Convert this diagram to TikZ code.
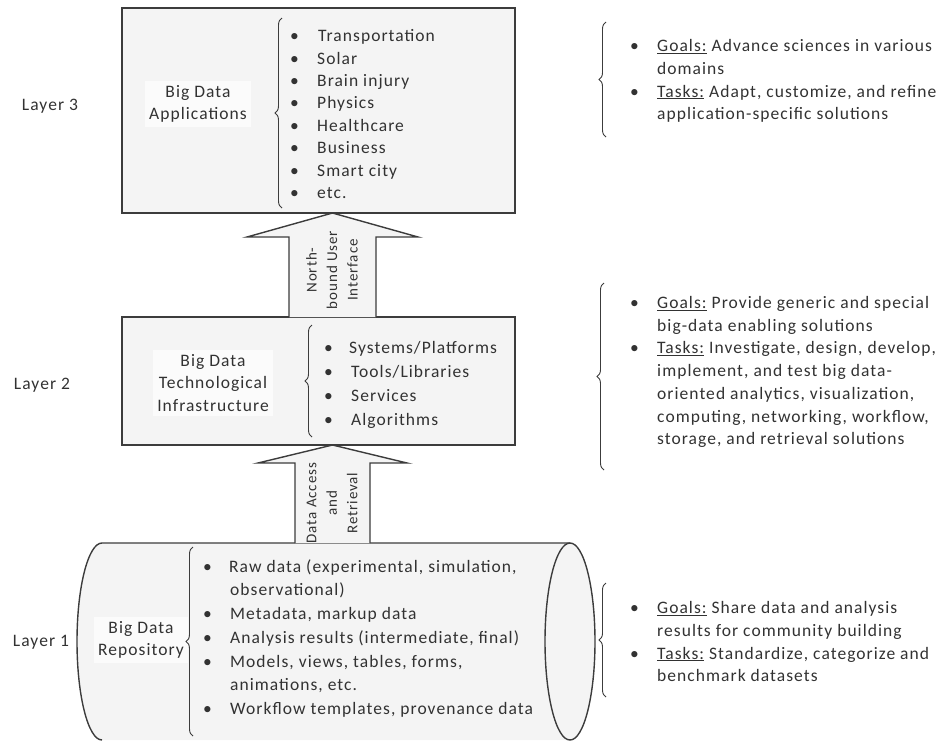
\documentclass[tikz,border=0pt]{standalone}
\usepackage{fontspec}
\setmainfont{Carlito}[LetterSpace=6]
\usetikzlibrary{decorations.pathreplacing,calc}
\definecolor{txt}{RGB}{50,50,50}
\definecolor{ln}{RGB}{60,60,60}
\definecolor{boxfill}{RGB}{244,244,244}
\definecolor{lblfill}{RGB}{251,251,251}
\newlength\bw
\setlength\bw{27pt}
\newcommand\bul{\makebox[\bw][l]{\textbullet}}
\newcommand\ind{\hspace*{\bw}}
\newcommand\ul[1]{\underline{#1}}
\begin{document}
\begin{tikzpicture}[x=1pt,y=-1pt,
  every node/.style={text=txt, font=\fontsize{17.5}{22.7}\selectfont, inner sep=0pt},
  layerbox/.style={draw=ln, line width=1.4pt, fill=boxfill},
  lbl/.style={align=center, fill=lblfill, inner sep=4pt},
  lst/.style={align=left, anchor=west, execute at begin node=\strut, execute at end node=\strut},
  wide/.style={font=\fontsize{17.5}{23.7}\selectfont},
  brc/.style={draw=ln, line width=0.9pt, decorate, decoration={brace, amplitude=7pt}},
  barrow/.style={draw=ln, line width=1.4pt, fill=boxfill, line join=miter},
  arrtext/.style={rotate=90, align=center, font=\fontsize{15}{20.5}\selectfont},
  cyl/.style={draw=ln, line width=1.4pt},
]
\useasboundingbox (0,0) rectangle (951,740);
\clip (0,0) rectangle (951,740);

% ---------- Layer 3 ----------
\node (lay3) at (50,106) {Layer 3};
\node[layerbox, minimum width=393pt, minimum height=205pt] (L3) at (318.5,110.5) {};
\node[lbl] (app) at (198,104) {Big Data\\Applications};
\draw[brc] (282,208) -- (282,18);
\node[lst, font=\fontsize{17.5}{22.4}\selectfont] (applist) at (290,117.5) {\setlength\bw{28pt}\bul Transportation\\ \bul Solar\\ \bul Brain injury\\ \bul Physics\\ \bul Healthcare\\ \bul Business\\ \bul Smart city\\ \bul etc.};

% ---------- Layer 2 ----------
\node (lay2) at (42,385) {Layer 2};
\node[layerbox, minimum width=393pt, minimum height=128pt] (L2) at (318.5,381) {};
\node[lbl] (tech) at (213,383) {Big Data\\Technological\\Infrastructure};
\draw[brc] (312,437) -- (312,325);
\node[lst, wide] (techlist) at (324,387) {\setlength\bw{25pt}\bul Systems/Platforms\\ \bul Tools/Libraries\\ \bul Services\\ \bul Algorithms};

% ---------- Layer 1 (cylinder) ----------
\fill[boxfill] (102,543) -- (570,543) arc[start angle=270, end angle=450, x radius=25, y radius=98.5]
  -- (102,740) arc[start angle=90, end angle=270, x radius=25, y radius=98.5] -- cycle;
\draw[cyl] (102,740) arc[start angle=90, end angle=270, x radius=25, y radius=98.5]
  -- (570,543) arc[start angle=270, end angle=450, x radius=25, y radius=98.5];
\draw[cyl] (570,543) arc[start angle=270, end angle=90, x radius=25, y radius=98.5];
\node (lay1) at (41,642) {Layer 1};
\node[lbl] (repo) at (141,640) {Big Data\\Repository};
\draw[brc] (193,736) -- (193,547);
\node[lst, wide] (repolist) at (203,640.5) {\setlength\bw{26pt}\bul Raw data (experimental, simulation,\\ \ind observational)\\ \bul Metadata, markup data\\ \bul Analysis results (intermediate, final)\\ \bul Models, views, tables, forms,\\ \ind animations, etc.\\ \bul Workflow templates, provenance data};

% ---------- Block arrows ----------
\coordinate (t1) at (332.5,213);
\coordinate (b1) at (332.5,317);
\draw[barrow] ($(b1)+(-43.5,0)$) -- ($(t1)+(-43.5,24)$) -- ($(t1)+(-85.5,24)$) -- (t1)
  -- ($(t1)+(85.5,24)$) -- ($(t1)+(43.5,24)$) -- ($(b1)+(43.5,0)$);
\node[arrtext] (nb) at (332,270) {North-\\bound User\\Interface};

\coordinate (t2) at (332.5,445);
\coordinate (b2) at (332.5,543);
\draw[barrow] ($(b2)+(-37.5,0)$) -- ($(t2)+(-37.5,18)$) -- ($(t2)+(-74.5,18)$) -- (t2)
  -- ($(t2)+(74.5,18)$) -- ($(t2)+(37.5,18)$) -- ($(b2)+(37.5,0)$);
\node[arrtext] (da) at (332,503) {Data Access\\and\\Retrieval};

% ---------- Right-hand goals/tasks ----------
\draw[brc] (606,137) -- (606,22);
\node[lst] (g3) at (630,83) {\bul\ul{Goals:} Advance sciences in various\\ \ind domains\\ \bul\ul{Tasks:} Adapt, customize, and refine\\ \ind application-specific solutions};

\draw[brc] (604,470) -- (604,283);
\node[lst] (g2) at (630,374) {\bul\ul{Goals:} Provide generic and special\\ \ind big-data enabling solutions\\ \bul\ul{Tasks:} Investigate, design, develop,\\ \ind implement, and test big data-\\ \ind oriented analytics, visualization,\\ \ind computing, networking, workflow,\\ \ind storage, and retrieval solutions};

\draw[brc] (606,697) -- (606,583);
\node[lst] (g1) at (630,645) {\bul\ul{Goals:} Share data and analysis\\ \ind results for community building\\ \bul\ul{Tasks:} Standardize, categorize and\\ \ind benchmark datasets};
\end{tikzpicture}
\end{document}
